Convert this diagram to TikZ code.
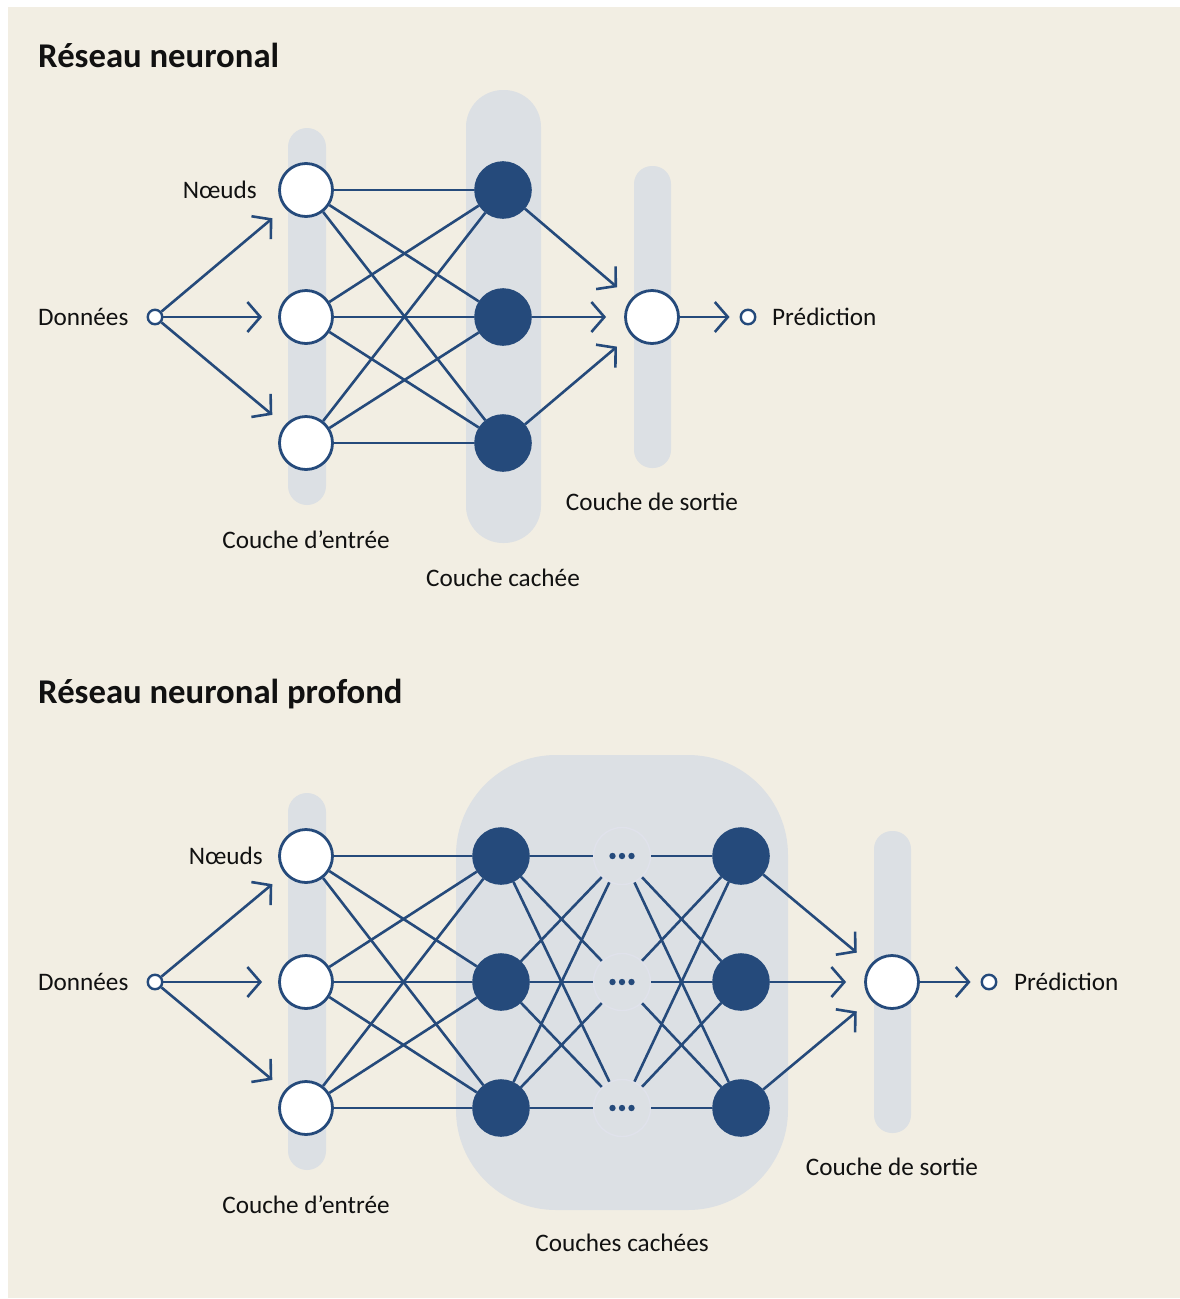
\documentclass[tikz,border=0pt]{standalone}
\usepackage{fontspec}
\setmainfont{Carlito}
\usetikzlibrary{arrows.meta,calc}
\definecolor{paper}{HTML}{F2EEE3}
\definecolor{band}{HTML}{DCE0E4}
\definecolor{navy}{HTML}{254A7B}
\definecolor{ring}{HTML}{E0E2EB}
\definecolor{ink}{HTML}{111111}

\begin{document}
\begin{tikzpicture}[x=1pt,y=-1pt,
  wire/.style={draw=navy,line width=2.6pt},
  feed/.style={wire,-{Straight Barb[length=13pt,width=30pt]}},
  inode/.style={circle,draw=navy,fill=white,line width=2.8pt,minimum size=53pt,inner sep=0pt},
  hnode/.style={circle,draw=navy,fill=navy,line width=2.6pt,minimum size=55pt,inner sep=0pt},
  dnode/.style={circle,draw=ring,line width=1.4pt,minimum size=57pt,inner sep=0pt},
  port/.style={circle,draw=navy,fill=white,line width=2.4pt,minimum size=14.5pt,inner sep=0pt},
  lab/.style={font=\fontsize{25.2}{30}\selectfont,text=ink,inner sep=0pt},
  heading/.style={font=\fontsize{34.7}{40}\selectfont\bfseries,text=ink,inner sep=0pt},
  layerband/.style={fill=band}
]
% page and frame
\fill[white] (0,0) rectangle (1180,1299);
\fill[paper] (8,7) rectangle (1180,1298);
\useasboundingbox (0,0) rectangle (1180,1299);

% ---------------- shallow network ----------------
\node[heading,anchor=base west] (t1) at (38,67) {Réseau neuronal};

\fill[layerband,rounded corners=19pt] (288,128) rectangle (326,505);
\fill[layerband,rounded corners=37pt] (466,90) rectangle (541,543);
\fill[layerband,rounded corners=18pt] (634,166) rectangle (671,468);

\node[port] (tin) at (155,317) {};
\foreach \y [count=\i] in {190,317,443} {
  \node[inode] (ti\i) at (306,\y) {};
  \node[hnode] (th\i) at (503,\y) {};
}
\node[inode] (tout) at (652,317) {};
\node[port] (tpred) at (748,317) {};

\foreach \i in {1,2,3} {
  \draw[feed,shorten >=16pt] (tin) -- (ti\i);
  \foreach \j in {1,2,3} \draw[wire] (ti\i) -- (th\j);
  \draw[feed,shorten >=18pt] (th\i) -- (tout);
}
\draw[feed,shorten >=10pt] (tout) -- (tpred);

\node[lab,anchor=base west] (tlin) at (38,325) {Données};
\node[lab,anchor=base east] (tlnodes) at (257,198) {Nœuds};
\node[lab,anchor=base west] (tlpred) at (772,325) {Prédiction};
\node[lab,anchor=base] (tlinput) at (306,548) {Couche d’entrée};
\node[lab,anchor=base] (tlhidden) at (503,586) {Couche cachée};
\node[lab,anchor=base] (tloutput) at (652,510) {Couche de sortie};

% ---------------- deep network ----------------
\node[heading,anchor=base west] (t2) at (38,703) {Réseau neuronal profond};

\fill[layerband,rounded corners=19pt] (288,793) rectangle (326,1170);
\fill[layerband,rounded corners=100pt] (456,755) rectangle (788,1210);
\fill[layerband,rounded corners=18pt] (874,831) rectangle (911,1133);

\node[port] (bin) at (155,982) {};
\foreach \y [count=\i] in {856,982,1108} {
  \node[inode] (bi\i) at (306,\y) {};
  \node[hnode] (ba\i) at (501,\y) {};
  \node[dnode] (bd\i) at (622,\y) {};
  \node[hnode] (bb\i) at (741,\y) {};
  \foreach \dx in {-9.5,0,9.5}
    \fill[navy] ([xshift=\dx pt]bd\i.center) circle (3.2pt);
}
\node[inode] (bout) at (892,982) {};
\node[port] (bpred) at (989,982) {};

\foreach \i in {1,2,3} {
  \draw[feed,shorten >=16pt] (bin) -- (bi\i);
  \foreach \j in {1,2,3} {
    \draw[wire] (bi\i) -- (ba\j);
    \draw[wire] (ba\i) -- (bd\j);
    \draw[wire] (bd\i) -- (bb\j);
  }
  \draw[feed,shorten >=18pt] (bb\i) -- (bout);
}
\draw[feed,shorten >=10pt] (bout) -- (bpred);

\node[lab,anchor=base west] (blin) at (38,990) {Données};
\node[lab,anchor=base east] (blnodes) at (263,864) {Nœuds};
\node[lab,anchor=base west] (blpred) at (1014,990) {Prédiction};
\node[lab,anchor=base] (blinput) at (306,1213) {Couche d’entrée};
\node[lab,anchor=base] (blhidden) at (622,1251) {Couches cachées};
\node[lab,anchor=base] (bloutput) at (892,1175) {Couche de sortie};
\end{tikzpicture}
\end{document}
